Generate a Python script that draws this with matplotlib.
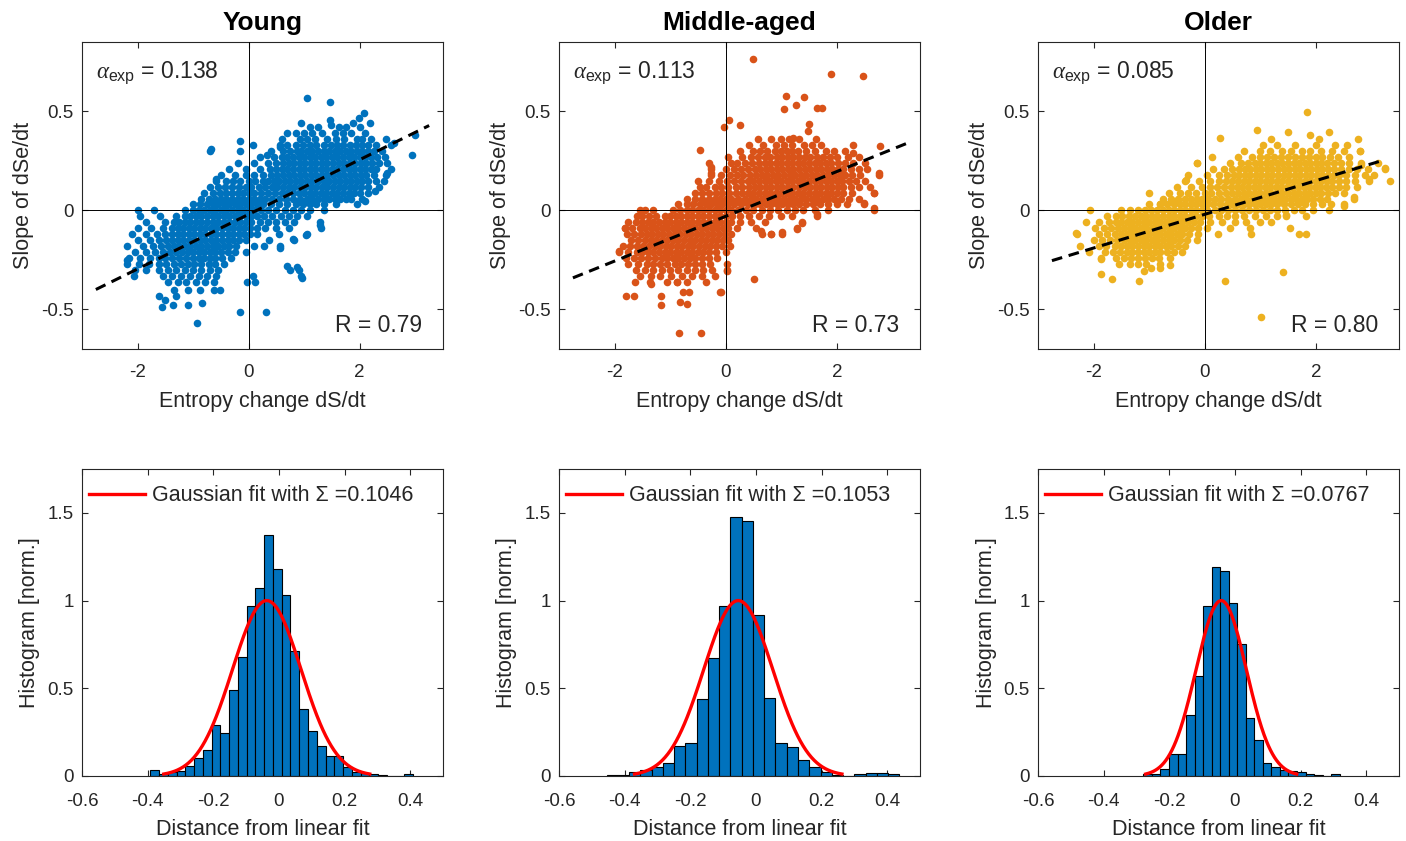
import numpy as np
import matplotlib.pyplot as plt

plt.rcParams["font.family"] = ["Liberation Sans", "DejaVu Sans"]
plt.rcParams["mathtext.fontset"] = "custom"
plt.rcParams["mathtext.rm"] = "Liberation Sans"
plt.rcParams["mathtext.it"] = "Liberation Serif:italic"
plt.rcParams["axes.unicode_minus"] = False

GROUPS = ["Young", "Middle-aged", "Older"]
COLORS = ["#0072BD", "#D95319", "#EDB120"]
ALPHA_EXP = [0.138, 0.113, 0.085]
FIT_OFFSET = [-0.02, -0.03, -0.02]
R_TEXT = ["0.79", "0.73", "0.80"]
SIGMA = [0.1046, 0.1053, 0.0767]
MU = [-0.037, -0.054, -0.042]
FIT_RANGE = [-2.75, 3.25]

# scatter clouds, row by row (y, [x ...]) plus loose points
young_rows = [
    (0.42, [1.10, 1.25, 1.62, 1.75, 2.00]),
    (0.39, [0.69, 0.85, 1.00, 1.15, 1.32, 1.55, 1.70, 1.85, 2.10]),
    (0.36, [0.60, 0.92, 1.05, 1.20, 1.42, 1.58, 1.72, 1.95, 2.05, 2.20, 2.47]),
    (0.33, [0.07, 0.56, 0.70, 0.85, 0.98, 1.10, 1.22, 1.35, 1.48, 1.60, 1.70, 1.82, 1.93, 2.05, 2.15, 2.30, 2.56]),
    (0.30, [-0.16, 0.40, 0.62, 0.75, 0.88, 0.95, 1.05, 1.15, 1.25, 1.35, 1.45, 1.55, 1.65, 1.75, 1.85, 1.95, 2.05, 2.15, 2.25, 2.40]),
    (0.27, [0.20, 0.45, 0.60, 0.70, 0.80, 0.90, 1.00, 1.10, 1.20, 1.30, 1.40, 1.50, 1.60, 1.70, 1.80, 1.90, 2.00, 2.10, 2.20, 2.32, 2.45]),
    (0.24, [-0.20, 0.10, 0.35, 0.50, 0.62, 0.72, 0.82, 0.92, 1.02, 1.12, 1.22, 1.32, 1.42, 1.52, 1.62, 1.72, 1.82, 1.92, 2.02, 2.12, 2.22, 2.35, 2.50]),
    (0.21, [-0.35, -0.05, 0.20, 0.38, 0.50, 0.60, 0.70, 0.80, 0.90, 1.00, 1.10, 1.20, 1.30, 1.40, 1.50, 1.60, 1.70, 1.80, 1.90, 2.00, 2.10, 2.20, 2.30, 2.56]),
    (0.18, [-0.50, -0.25, -0.05, 0.10, 0.25, 0.40, 0.52, 0.62, 0.72, 0.82, 0.92, 1.02, 1.12, 1.22, 1.32, 1.42, 1.52, 1.62, 1.72, 1.82, 1.92, 2.02, 2.12, 2.25, 2.47]),
    (0.15, [-0.58, -0.40, -0.28, -0.15, 0.00, 0.12, 0.25, 0.35, 0.45, 0.55, 0.65, 0.75, 0.85, 0.95, 1.05, 1.15, 1.25, 1.35, 1.45, 1.55, 1.65, 1.75, 1.85, 1.95, 2.05, 2.15, 2.30]),
    (0.12, [-0.70, -0.55, -0.42, -0.30, -0.18, -0.05, 0.05, 0.18, 0.30, 0.42, 0.52, 0.62, 0.72, 0.82, 0.92, 1.02, 1.12, 1.22, 1.32, 1.42, 1.52, 1.62, 1.72, 1.82, 1.92, 2.02, 2.15, 2.34]),
    (0.09, [-0.80, -0.65, -0.52, -0.40, -0.30, -0.20, -0.10, 0.00, 0.10, 0.22, 0.35, 0.48, 0.60, 0.70, 0.80, 0.90, 1.00, 1.10, 1.20, 1.30, 1.40, 1.50, 1.60, 1.70, 1.80, 1.90, 2.00, 2.15]),
    (0.06, [-0.85, -0.72, -0.60, -0.50, -0.40, -0.30, -0.20, -0.10, 0.00, 0.10, 0.20, 0.30, 0.42, 0.55, 0.68, 0.80, 0.92, 1.05, 1.15, 1.25, 1.35, 1.45, 1.55, 1.65, 1.75, 1.85, 2.04]),
    (0.03, [-1.00, -0.88, -0.75, -0.65, -0.55, -0.45, -0.35, -0.25, -0.15, -0.05, 0.05, 0.15, 0.25, 0.40, 0.55, 0.70, 0.85, 0.98, 1.10, 1.22, 1.35, 1.57, 1.96]),
    (0.00, [-1.99, -1.70, -1.15, -1.00, -0.90, -0.80, -0.70, -0.60, -0.50, -0.40, -0.30, -0.20, -0.10, 0.00, 0.10, 0.22, 0.35, 0.50, 0.65, 0.80, 0.95, 1.10, 1.36]),
    (-0.03, [-1.95, -1.60, -1.30, -1.15, -1.05, -0.95, -0.85, -0.75, -0.65, -0.55, -0.45, -0.35, -0.25, -0.15, -0.05, 0.05, 0.15, 0.28, 0.42, 0.58, 0.72, 0.88, 1.05]),
    (-0.06, [-1.85, -1.50, -1.35, -1.25, -1.15, -1.05, -0.95, -0.85, -0.75, -0.65, -0.55, -0.45, -0.35, -0.25, -0.15, -0.05, 0.05, 0.20, 0.35, 0.50, 0.65, 0.82, 1.28]),
    (-0.09, [-2.00, -1.75, -1.55, -1.38, -1.28, -1.18, -1.08, -0.98, -0.88, -0.78, -0.68, -0.58, -0.48, -0.38, -0.28, -0.18, -0.08, 0.02, 0.15, 0.30, 0.50, 0.72, 1.30]),
    (-0.12, [-2.10, -1.85, -1.65, -1.50, -1.38, -1.28, -1.18, -1.08, -0.98, -0.88, -0.78, -0.68, -0.58, -0.48, -0.38, -0.28, -0.18, -0.08, 0.02, 0.15, 0.55, 1.06]),
    (-0.15, [-2.00, -1.78, -1.62, -1.48, -1.38, -1.28, -1.18, -1.08, -0.98, -0.88, -0.78, -0.68, -0.58, -0.48, -0.38, -0.28, -0.18, -0.05, 0.37, 0.81]),
    (-0.18, [-2.19, -1.90, -1.72, -1.58, -1.45, -1.35, -1.25, -1.15, -1.05, -0.95, -0.85, -0.75, -0.65, -0.55, -0.45, -0.35, -0.22, 0.09, 0.27, 0.57]),
    (-0.21, [-2.05, -1.85, -1.68, -1.55, -1.42, -1.30, -1.20, -1.10, -1.00, -0.90, -0.80, -0.70, -0.60, -0.50, -0.38, -0.25, -0.05]),
    (-0.24, [-2.15, -1.95, -1.78, -1.62, -1.50, -1.38, -1.25, -1.12, -1.00, -0.90, -0.80, -0.70, -0.60, -0.48, -0.32]),
    (-0.27, [-2.19, -1.98, -1.80, -1.62, -1.48, -1.35, -1.22, -1.10, -0.98, -0.85, -0.72, -0.60, -0.45]),
    (-0.30, [-2.05, -1.85, -1.62, -1.45, -1.30, -1.15, -1.00, -0.85, -0.70, -0.55, 0.74, 0.90]),
    (-0.33, [-2.07, -1.55, -1.38, -1.22, -1.05, -0.90, -0.75, -0.58, 0.08, 0.95]),
    (-0.36, [-1.45, -1.28, -1.12, -0.95, -0.78, -0.62, -0.03, 0.12]),
    (-0.40, [-1.35, -1.10, -0.88, -0.63, -0.51]),
]
young_extra = [
    (1.05, 0.57), (1.47, 0.545), (2.07, 0.49), (1.98, 0.467), (1.88, 0.44),
    (2.19, 0.44), (1.47, 0.458), (1.49, 0.43), (0.95, 0.44), (3.00, 0.38),
    (2.95, 0.28), (2.61, 0.34), (-0.68, 0.31), (-0.69, 0.30), (-0.16, 0.35),
    (0.33, 0.28), (0.56, 0.32), (-0.58, 0.16), (-2.19, -0.25), (-1.62, -0.43),
    (-1.56, -0.49), (-1.36, -0.48), (-1.09, -0.48), (-0.84, -0.47), (-0.93, -0.57),
    (-0.15, -0.515), (0.31, -0.515), (0.70, -0.28), (0.87, -0.285), (0.97, -0.34),
    (1.28, -0.075), (1.04, -0.126), (0.80, -0.146), (0.56, -0.19), (-1.50, -0.45),
    (-1.30, -0.43), (2.49, 0.19), (2.43, 0.15), (2.28, 0.10), (2.10, 0.047),
]

mid_rows = [
    (0.36, [0.58, 0.81, 0.99, 1.14, 1.32, 1.62]),
    (0.33, [0.42, 0.68, 0.90, 1.05, 1.20, 1.41, 1.55, 1.71, 2.30]),
    (0.30, [0.25, 0.50, 0.62, 0.75, 0.88, 1.00, 1.10, 1.20, 1.30, 1.45, 1.60, 1.80, 1.95, 2.15]),
    (0.27, [0.05, 0.30, 0.45, 0.58, 0.70, 0.80, 0.92, 1.02, 1.12, 1.22, 1.32, 1.42, 1.52, 1.65, 1.75, 1.88, 2.00, 2.20, 2.40]),
    (0.24, [-0.30, 0.10, 0.20, 0.35, 0.48, 0.60, 0.70, 0.80, 0.90, 1.00, 1.10, 1.20, 1.30, 1.40, 1.50, 1.60, 1.70, 1.80, 1.90, 2.02, 2.15, 2.30, 2.50]),
    (0.21, [-0.26, 0.00, 0.15, 0.28, 0.40, 0.52, 0.62, 0.72, 0.82, 0.92, 1.02, 1.12, 1.22, 1.32, 1.42, 1.52, 1.62, 1.72, 1.82, 1.92, 2.02, 2.12, 2.25, 2.40, 2.55]),
    (0.18, [-0.26, -0.08, 0.08, 0.20, 0.32, 0.44, 0.55, 0.65, 0.75, 0.85, 0.95, 1.05, 1.15, 1.25, 1.35, 1.45, 1.55, 1.65, 1.75, 1.85, 1.95, 2.05, 2.15, 2.28, 2.42, 2.76]),
    (0.15, [-0.50, -0.30, -0.12, 0.02, 0.15, 0.28, 0.40, 0.50, 0.60, 0.70, 0.80, 0.90, 1.00, 1.10, 1.20, 1.30, 1.40, 1.50, 1.60, 1.70, 1.80, 1.90, 2.00, 2.10, 2.22, 2.35, 2.50]),
    (0.12, [-0.47, -0.35, -0.20, -0.08, 0.05, 0.18, 0.30, 0.42, 0.52, 0.62, 0.72, 0.82, 0.92, 1.02, 1.12, 1.22, 1.32, 1.42, 1.52, 1.62, 1.72, 1.82, 1.92, 2.02, 2.12, 2.25, 2.40, 2.60]),
    (0.09, [-0.55, -0.42, -0.30, -0.18, -0.06, 0.06, 0.18, 0.30, 0.40, 0.50, 0.60, 0.70, 0.80, 0.90, 1.00, 1.10, 1.20, 1.30, 1.40, 1.50, 1.60, 1.70, 1.80, 1.90, 2.00, 2.12, 2.28, 2.67]),
    (0.06, [-0.70, -0.55, -0.42, -0.30, -0.20, -0.10, 0.00, 0.10, 0.22, 0.35, 0.45, 0.55, 0.65, 0.75, 0.85, 0.95, 1.05, 1.15, 1.25, 1.35, 1.45, 1.55, 1.65, 1.75, 1.85, 1.95, 2.08, 2.22, 2.40]),
    (0.03, [-0.85, -0.70, -0.58, -0.46, -0.36, -0.26, -0.16, -0.06, 0.04, 0.15, 0.28, 0.40, 0.52, 0.62, 0.72, 0.82, 0.92, 1.02, 1.12, 1.22, 1.32, 1.45, 1.58, 1.70, 1.85, 2.00, 2.18, 2.49]),
    (0.00, [-1.55, -1.45, -1.30, -0.95, -0.82, -0.70, -0.60, -0.50, -0.40, -0.30, -0.20, -0.10, 0.00, 0.10, 0.22, 0.36, 0.50, 0.65, 0.80, 0.95, 1.10, 1.25, 1.40, 1.60, 1.85, 2.67]),
    (-0.03, [-1.60, -1.50, -1.38, -1.25, -1.10, -1.00, -0.90, -0.80, -0.70, -0.60, -0.50, -0.40, -0.30, -0.20, -0.10, 0.00, 0.12, 0.25, 0.42, 0.60, 0.78, 1.00, 1.20, 1.65]),
    (-0.06, [-1.75, -1.62, -1.50, -1.40, -1.30, -1.20, -1.10, -1.00, -0.90, -0.80, -0.70, -0.60, -0.50, -0.40, -0.30, -0.20, -0.10, 0.00, 0.10, 0.25, 0.45, 0.70, 1.37]),
    (-0.09, [-1.82, -1.68, -1.55, -1.45, -1.35, -1.25, -1.15, -1.05, -0.95, -0.85, -0.75, -0.65, -0.55, -0.45, -0.35, -0.25, -0.15, -0.05, 0.05, 0.20, 0.55, 1.29]),
    (-0.12, [-1.78, -1.65, -1.52, -1.42, -1.32, -1.22, -1.12, -1.02, -0.92, -0.82, -0.72, -0.62, -0.52, -0.42, -0.32, -0.22, -0.12, -0.02, 0.10, 0.65, 0.81, 1.02]),
    (-0.15, [-1.70, -1.58, -1.45, -1.35, -1.25, -1.15, -1.05, -0.95, -0.85, -0.75, -0.65, -0.55, -0.45, -0.35, -0.25, -0.15, -0.05, 0.05]),
    (-0.18, [-1.85, -1.72, -1.60, -1.48, -1.38, -1.28, -1.18, -1.08, -0.98, -0.88, -0.78, -0.68, -0.58, -0.48, -0.38, -0.28, -0.18, -0.06, 0.08]),
    (-0.21, [-1.92, -1.75, -1.60, -1.50, -1.40, -1.30, -1.20, -1.10, -1.00, -0.90, -0.80, -0.70, -0.60, -0.50, -0.40, -0.30, -0.18, 0.00]),
    (-0.24, [-1.80, -1.65, -1.52, -1.40, -1.28, -1.15, -1.05, -0.95, -0.85, -0.75, -0.65, -0.55, -0.42, -0.30, -0.15]),
    (-0.27, [-1.75, -1.58, -1.42, -1.30, -1.18, -1.05, -0.92, -0.80, -0.68, -0.55, -0.42, -0.28, 0.02]),
    (-0.30, [-1.62, -1.45, -1.30, -1.15, -1.00, -0.85, -0.70, -0.55, -0.40, -0.25, 0.02]),
    (-0.33, [-1.55, -1.35, -1.18, -0.98, -0.78, -0.60, -0.42, -0.20]),
    (-0.36, [-1.64, -1.37, -1.05, -0.87, -0.70, -0.35]),
]
mid_extra = [
    (0.50, 0.763), (1.89, 0.69), (2.48, 0.68), (1.08, 0.58), (1.41, 0.575),
    (1.05, 0.51), (1.26, 0.53), (1.65, 0.517), (1.74, 0.517), (0.06, 0.455),
    (-0.03, 0.42), (0.26, 0.433), (1.50, 0.438), (1.48, 0.40), (1.22, 0.366),
    (-0.47, 0.307), (2.78, 0.324), (2.76, 0.19), (2.67, 0.089), (2.49, 0.039),
    (2.67, 0.013), (1.65, -0.02), (1.37, -0.065), (1.29, -0.096), (1.02, -0.11),
    (0.81, -0.12), (0.63, -0.104), (0.02, -0.305), (0.51, -0.347), (-0.09, -0.414),
    (-1.65, -0.43), (-1.80, -0.43), (-1.16, -0.48), (-0.84, -0.62), (-0.44, -0.62),
    (-0.82, -0.465), (-0.69, -0.473), (-0.76, -0.414), (-0.66, -0.414), (-1.35, -0.372),
    (-0.87, -0.364), (-1.82, -0.09), (-1.92, -0.205), (-0.26, 0.22), (-0.26, 0.19),
    (2.30, 0.29), (-0.11, -0.41), (-1.16, -0.43),
]

old_rows = [
    (0.36, [1.20, 2.05]),
    (0.33, [1.05, 1.30, 1.62, 2.00, 2.35, 2.57]),
    (0.30, [0.70, 1.00, 1.18, 1.40, 1.55, 1.75, 1.90, 2.10, 2.30, 2.50, 2.80]),
    (0.27, [0.13, 0.60, 0.85, 1.00, 1.12, 1.25, 1.38, 1.50, 1.62, 1.75, 1.88, 2.00, 2.12, 2.25, 2.40, 2.60]),
    (0.24, [-0.14, 0.45, 0.65, 0.78, 0.90, 1.00, 1.10, 1.20, 1.30, 1.40, 1.50, 1.60, 1.70, 1.80, 1.90, 2.00, 2.10, 2.20, 2.32, 2.45, 2.60, 2.82, 3.12]),
    (0.21, [0.15, 0.35, 0.50, 0.62, 0.72, 0.82, 0.92, 1.02, 1.12, 1.22, 1.32, 1.42, 1.52, 1.62, 1.72, 1.82, 1.92, 2.02, 2.12, 2.22, 2.32, 2.45, 2.60, 2.75, 2.94, 3.24]),
    (0.18, [-0.30, 0.05, 0.25, 0.40, 0.52, 0.62, 0.72, 0.82, 0.92, 1.02, 1.12, 1.22, 1.32, 1.42, 1.52, 1.62, 1.72, 1.82, 1.92, 2.02, 2.12, 2.22, 2.32, 2.42, 2.55, 2.70, 2.88, 3.05]),
    (0.15, [-0.35, -0.10, 0.10, 0.25, 0.38, 0.50, 0.60, 0.70, 0.80, 0.90, 1.00, 1.10, 1.20, 1.30, 1.40, 1.50, 1.60, 1.70, 1.80, 1.90, 2.00, 2.10, 2.20, 2.30, 2.42, 2.55, 2.70, 2.95, 3.33]),
    (0.12, [-0.50, -0.25, -0.05, 0.10, 0.22, 0.35, 0.48, 0.58, 0.68, 0.78, 0.88, 0.98, 1.08, 1.18, 1.28, 1.38, 1.48, 1.58, 1.68, 1.78, 1.88, 1.98, 2.08, 2.18, 2.30, 2.42, 2.55, 2.75]),
    (0.09, [-1.01, -0.65, -0.45, -0.30, -0.15, 0.00, 0.12, 0.25, 0.38, 0.50, 0.60, 0.70, 0.80, 0.90, 1.00, 1.10, 1.20, 1.30, 1.40, 1.50, 1.60, 1.70, 1.80, 1.90, 2.00, 2.10, 2.22, 2.35, 2.50]),
    (0.06, [-0.75, -0.60, -0.48, -0.36, -0.25, -0.14, -0.04, 0.06, 0.18, 0.30, 0.42, 0.55, 0.65, 0.75, 0.85, 0.95, 1.05, 1.15, 1.25, 1.35, 1.45, 1.55, 1.65, 1.75, 1.85, 1.95, 2.08, 2.20, 2.68]),
    (0.03, [-1.00, -0.80, -0.68, -0.56, -0.45, -0.35, -0.25, -0.15, -0.05, 0.05, 0.15, 0.28, 0.40, 0.50, 0.60, 0.70, 0.80, 0.90, 1.00, 1.10, 1.20, 1.30, 1.42, 1.55, 1.68, 1.80, 1.95, 2.12, 2.27, 2.50]),
    (0.00, [-2.06, -1.50, -1.35, -1.20, -1.08, -0.96, -0.85, -0.75, -0.65, -0.55, -0.45, -0.35, -0.25, -0.15, -0.05, 0.05, 0.18, 0.30, 0.42, 0.55, 0.68, 0.80, 0.92, 1.05, 1.18, 1.30, 1.45, 1.60, 1.75, 1.95, 2.23]),
    (-0.03, [-1.75, -1.60, -1.48, -1.36, -1.25, -1.15, -1.05, -0.95, -0.85, -0.75, -0.65, -0.55, -0.45, -0.35, -0.25, -0.15, -0.05, 0.08, 0.25, 0.40, 0.55, 0.70, 0.90, 1.10, 1.30, 1.47, 1.82]),
    (-0.06, [-2.14, -1.90, -1.72, -1.60, -1.50, -1.40, -1.30, -1.20, -1.10, -1.00, -0.90, -0.80, -0.70, -0.60, -0.50, -0.40, -0.30, -0.20, -0.08, 0.10, 0.32, 0.55, 0.75, 1.00, 1.20]),
    (-0.09, [-1.97, -1.82, -1.68, -1.56, -1.45, -1.35, -1.25, -1.15, -1.05, -0.95, -0.85, -0.75, -0.65, -0.55, -0.45, -0.35, -0.25, -0.12, 0.05, 0.45, 0.82, 1.54]),
    (-0.12, [-2.30, -1.90, -1.75, -1.62, -1.50, -1.40, -1.30, -1.20, -1.10, -1.00, -0.90, -0.80, -0.70, -0.60, -0.50, -0.40, -0.28, -0.12, 0.24, 0.83, 1.69, 1.83]),
    (-0.15, [-2.00, -1.85, -1.70, -1.58, -1.46, -1.35, -1.25, -1.15, -1.05, -0.95, -0.85, -0.75, -0.65, -0.55, -0.45, -0.32, -0.14]),
    (-0.18, [-2.24, -1.90, -1.78, -1.62, -1.50, -1.40, -1.30, -1.20, -1.10, -1.00, -0.90, -0.80, -0.70, -0.60, -0.48, -0.35]),
    (-0.21, [-2.08, -1.80, -1.65, -1.52, -1.40, -1.30, -1.20, -1.10, -1.00, -0.90, -0.80, -0.68, -0.55, -0.41]),
    (-0.24, [-1.86, -1.60, -1.45, -1.32, -1.20, -1.08, -0.95, -0.82, -0.62]),
    (-0.27, [-1.55, -1.35, -1.20, -1.05, -0.80]),
]
old_extra = [
    (1.84, 0.495), (0.94, 0.408), (0.27, 0.366), (1.50, 0.394), (2.23, 0.394),
    (1.90, 0.383), (2.76, 0.36), (2.80, 0.30), (2.82, 0.23), (2.95, 0.16),
    (3.25, 0.215), (2.68, 0.07), (2.50, 0.02), (-2.31, -0.112), (-1.87, -0.322),
    (-1.67, -0.347), (-1.18, -0.359), (-1.10, -0.305), (-0.96, -0.289), (-0.62, -0.275),
    (-0.80, -0.29), (0.36, -0.356), (1.41, -0.31), (1.01, -0.54), (1.47, -0.025),
    (-0.34, 0.151), (-0.14, 0.237), (-0.80, 0.034), (-1.86, -0.247),
]

# histograms of distance from the linear fit: first left edge, bin width, heights
young_hist_start, young_hist_width = -0.392, 0.0267
young_hist = [0.032, 0.013, 0.02, 0.03, 0.055, 0.10, 0.15, 0.29, 0.245, 0.49,
              0.68, 0.97, 1.07, 1.376, 1.18, 1.03, 0.715, 0.383, 0.254, 0.171,
              0.112, 0.112, 0.051, 0.023, 0.017, 0.013, 0.006, 0.0, 0.0, 0.01]
mid_hist_start, mid_hist_width = -0.455, 0.0343
mid_hist = [0.008, 0.008, 0.023, 0.032, 0.051, 0.076, 0.171, 0.188, 0.438, 0.675,
            0.97, 1.478, 1.452, 0.915, 0.444, 0.188, 0.165, 0.093, 0.051, 0.023,
            0.004, 0.0, 0.01, 0.017, 0.017, 0.01]
old_hist_start, old_hist_width = -0.279, 0.026
old_hist = [0.01, 0.013, 0.04, 0.127, 0.127, 0.35, 0.57, 0.968, 1.19, 1.167,
            0.987, 0.753, 0.332, 0.203, 0.076, 0.051, 0.032, 0.027, 0.021, 0.01,
            0.004, 0.0, 0.01]

scatter_data = [(young_rows, young_extra), (mid_rows, mid_extra), (old_rows, old_extra)]
hist_data = [
    (young_hist_start, young_hist_width, young_hist),
    (mid_hist_start, mid_hist_width, mid_hist),
    (old_hist_start, old_hist_width, old_hist),
]

TEXT_GRAY = "#262626"
LEFTS = [0.0583, 0.3976, 0.7383]
WIDTH = 0.2568
HEIGHT = 0.365


def expand(rows, extra):
    xs, ys = [], []
    for y, row in rows:
        xs.extend(row)
        ys.extend([y] * len(row))
    for x, y in extra:
        xs.append(x)
        ys.append(y)
    return np.array(xs), np.array(ys)


def style_axes(ax):
    for sp in ax.spines.values():
        sp.set_color(TEXT_GRAY)
        sp.set_linewidth(0.8)
    ax.tick_params(direction="in", top=True, right=True, length=4, width=0.8,
                   colors=TEXT_GRAY, labelsize=13.5)
    ax.tick_params(axis="x", pad=11)
    ax.tick_params(axis="y", pad=6)


fig = plt.figure(figsize=(14.06, 8.41), dpi=100)

for i in range(3):
    # scatter panel
    ax = fig.add_axes([LEFTS[i], 0.585, WIDTH, HEIGHT])
    xs, ys = expand(*scatter_data[i])
    ax.scatter(xs, ys, s=30, color=COLORS[i], linewidths=0, zorder=2)
    ax.axhline(0, color="k", lw=0.7, zorder=3)
    ax.axvline(0, color="k", lw=0.7, zorder=3)
    fx = np.array(FIT_RANGE)
    ax.plot(fx, ALPHA_EXP[i] * fx + FIT_OFFSET[i], color="k", lw=2.2,
            dashes=(3.5, 2.2), zorder=4)
    ax.set_xlim(-3, 3.5)
    ax.set_ylim(-0.7, 0.85)
    ax.set_xticks([-2, 0, 2])
    ax.set_xticklabels(["-2", "0", "2"])
    ax.set_yticks([-0.5, 0, 0.5])
    ax.set_yticklabels(["-0.5", "0", "0.5"])
    style_axes(ax)
    ax.set_xlabel("Entropy change dS/dt", fontsize=15.5, color=TEXT_GRAY, labelpad=7)
    ax.set_ylabel("Slope of dSe/dt", fontsize=15.5, color=TEXT_GRAY, labelpad=5)
    ax.set_title(GROUPS[i], fontsize=19, fontweight="bold", pad=8.5)
    ax.text(0.04, 0.883, r"$\alpha_{\rm exp}$ = %.3f" % ALPHA_EXP[i],
            transform=ax.transAxes, fontsize=16.5, va="baseline", ha="left",
            color=TEXT_GRAY)
    ax.text(0.943, 0.055, "R = " + R_TEXT[i], transform=ax.transAxes,
            fontsize=16.5, va="baseline", ha="right", color=TEXT_GRAY)

    # histogram panel
    hx = fig.add_axes([LEFTS[i], 0.0773, WIDTH, HEIGHT])
    start, width, heights = hist_data[i]
    lefts = start + width * np.arange(len(heights))
    hx.bar(lefts, heights, width=width, align="edge", color="#0072BD",
           edgecolor="k", linewidth=0.8, zorder=2)
    gx = np.linspace(MU[i] - 3 * SIGMA[i], MU[i] + 3 * SIGMA[i], 300)
    gy = np.exp(-(gx - MU[i]) ** 2 / (2 * SIGMA[i] ** 2))
    hx.plot(gx, gy, color="red", lw=2.4, zorder=3,
            label="Gaussian fit with \u03a3 =%.4f" % SIGMA[i])
    hx.set_xlim(-0.6, 0.5)
    hx.set_ylim(0, 1.75)
    hx.set_xticks([-0.6, -0.4, -0.2, 0, 0.2, 0.4])
    hx.set_xticklabels(["-0.6", "-0.4", "-0.2", "0", "0.2", "0.4"])
    hx.set_yticks([0, 0.5, 1, 1.5])
    hx.set_yticklabels(["0", "0.5", "1", "1.5"])
    style_axes(hx)
    hx.tick_params(axis="x", pad=12)
    hx.set_xlabel("Distance from linear fit", fontsize=15.5, color=TEXT_GRAY, labelpad=7)
    hx.set_ylabel("Histogram [norm.]", fontsize=15.5, color=TEXT_GRAY, labelpad=5)
    leg = hx.legend(loc="upper left", bbox_to_anchor=(-0.025, 1.0), frameon=False,
                    fontsize=15.5, handlelength=2.6, handletextpad=0.3,
                    borderaxespad=0.15, borderpad=0.6)
    for t in leg.get_texts():
        t.set_color(TEXT_GRAY)

fig.savefig("out.png", dpi=100)
